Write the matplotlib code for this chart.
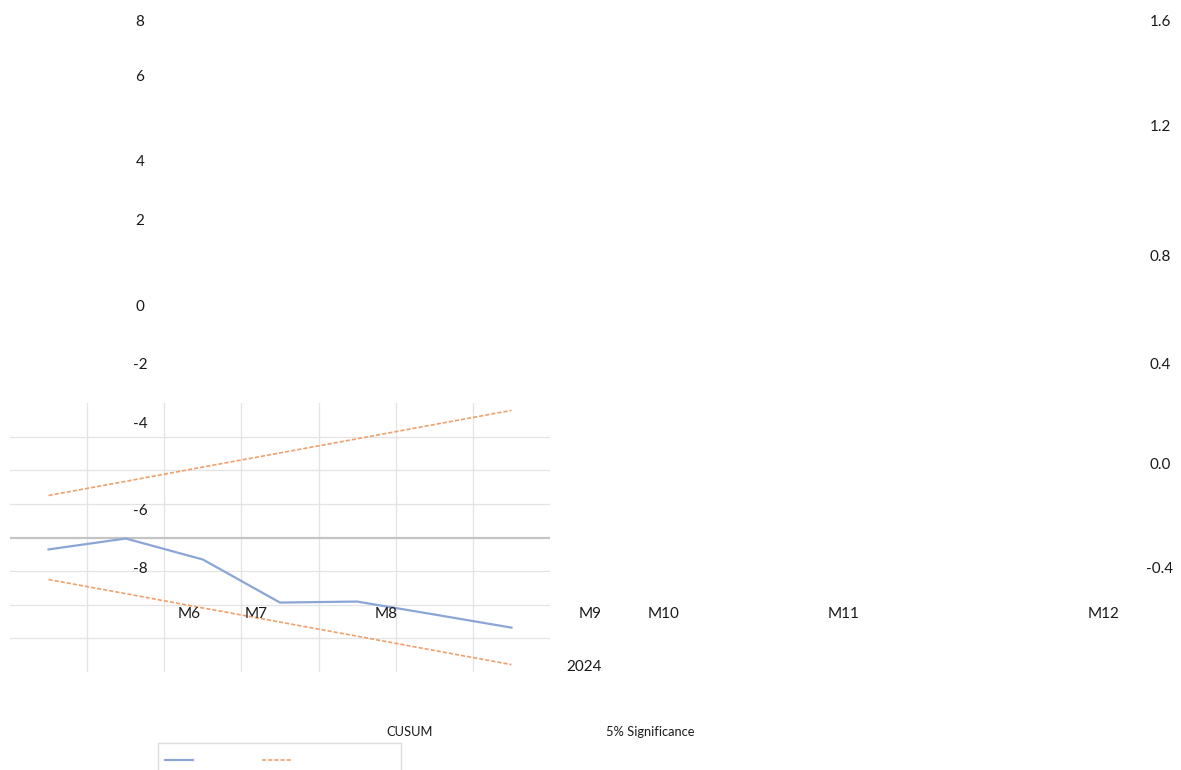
import matplotlib
matplotlib.use("Agg")
import matplotlib.pyplot as plt
from matplotlib.lines import Line2D

plt.rcParams['font.family'] = ['Lato', 'DejaVu Sans']

# Data
periods = ["P1", "P2", "P3", "P4", "P5", "P6", "P7"]
cusum = [-0.71, -0.06, -1.31, -3.87, -3.81, -4.58, -5.36]
upper_5pct = [2.50, 3.34, 4.19, 5.03, 5.87, 6.72, 7.56]
lower_5pct = [-2.50, -3.34, -4.19, -5.03, -5.87, -6.72, -7.56]

left_ticks = ["8", "6", "4", "2", "0", "-2", "-4", "-6", "-8"]
right_ticks = ["1.6", "1.2", "0.8", "0.4", "0.0", "-0.4"]
month_labels = ["M6", "M7", "M8", "M9", "M10", "M11", "M12"]
year_label = "2024"
series_names = ["CUSUM", "5% Significance"]

W, H = 1181, 770
fig = plt.figure(figsize=(W / 100, H / 100), dpi=100)

def px(x, y):
    return x / W, 1 - y / H

# Plot area
ax = fig.add_axes([10 / W, (H - 672) / H, 540 / W, 269 / H])
ax.set_xlim(-0.5, len(periods) - 0.5)
ax.set_ylim(-8, 8)
for s in ax.spines.values():
    s.set_visible(False)
ax.set_xticks([])
ax.set_yticks([])

grid_c = "#e3e3e3"
for xv in [i + 0.5 for i in range(len(periods) - 1)]:
    ax.axvline(xv, color=grid_c, lw=0.9, zorder=0)
for yv in [-6, -4, -2, 2, 4, 6]:
    ax.axhline(yv, color=grid_c, lw=0.9, zorder=0)
ax.axhline(0, color="#c4c4c4", lw=1.6, zorder=1)

x = list(range(len(periods)))
blue = "#8aa5d6"
orange = "#f0a06a"
ax.plot(x, cusum, color=blue, lw=1.6, zorder=3)
ax.plot(x, upper_5pct, color=orange, lw=1.2, ls=(0, (2.5, 1.2)), zorder=3)
ax.plot(x, lower_5pct, color=orange, lw=1.2, ls=(0, (2.5, 1.2)), zorder=3)

# Axis labels placed around the canvas
tc = "#1a1a1a"
fs = 11
left_y = [22, 77, 162, 221, 307, 365, 424, 511, 569]
for t, yy in zip(left_ticks, left_y):
    fig.text(*px(140, yy), t, ha="center", va="center", fontsize=fs, color=tc)

right_y = [22, 127, 257, 365, 465, 569]
for t, yy in zip(right_ticks, right_y):
    fig.text(*px(1160, yy), t, ha="center", va="center", fontsize=fs, color=tc)

month_x = [189, 256, 386, 590, 664, 844, 1104]
for t, xx in zip(month_labels, month_x):
    fig.text(*px(xx, 614), t, ha="center", va="center", fontsize=fs, color=tc)
fig.text(*px(584, 667), year_label, ha="center", va="center", fontsize=fs, color=tc)

# Legend
fig.text(*px(410, 732), series_names[0], ha="center", va="center", fontsize=9.3, color=tc)
fig.text(*px(650, 732), series_names[1], ha="center", va="center", fontsize=9.3, color=tc)
box = plt.Rectangle(px(158, 775), 243 / W, 32 / H, transform=fig.transFigure,
                    fill=False, ec="#dcdcdc", lw=1.0)
fig.add_artist(box)
fig.add_artist(Line2D([165 / W, 193 / W], [1 - 760 / H] * 2, transform=fig.transFigure,
                      color=blue, lw=1.6))
fig.add_artist(Line2D([262 / W, 292 / W], [1 - 760 / H] * 2, transform=fig.transFigure,
                      color=orange, lw=1.2, ls=(0, (2.5, 1.2))))

fig.savefig("out.png", dpi=100)
